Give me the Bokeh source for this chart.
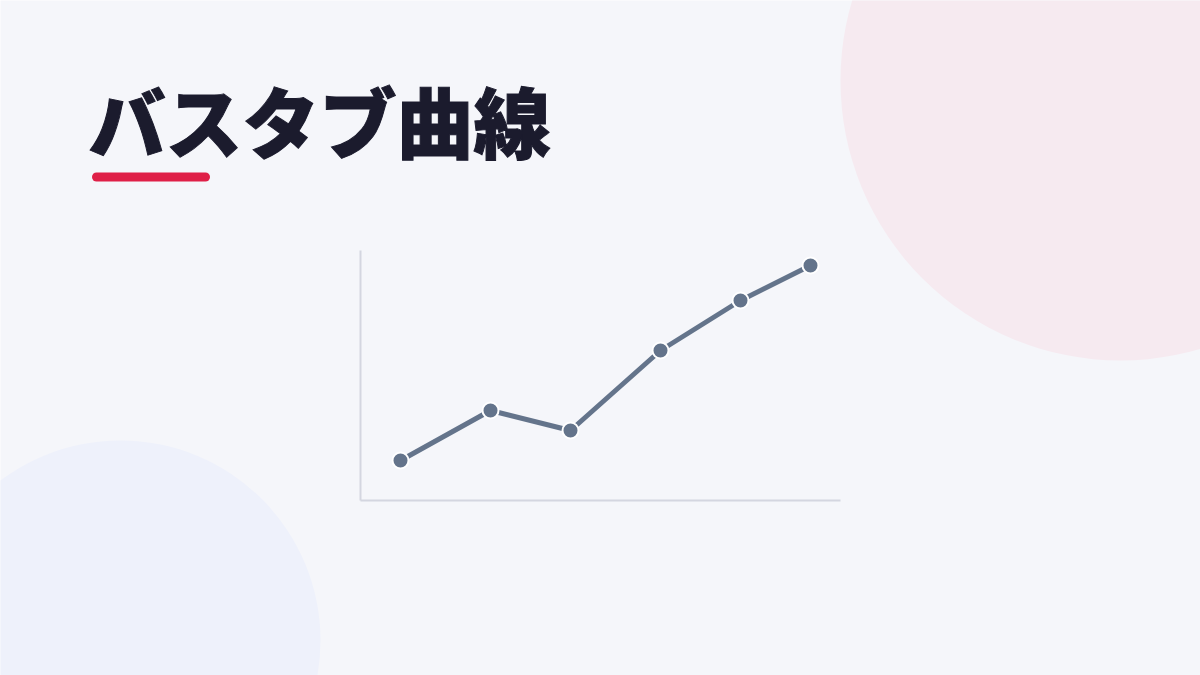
from bokeh.plotting import figure
from bokeh.models import Range1d
from bokeh.embed import file_html
from bokeh.resources import INLINE
from bokeh.core.properties import value

# --- data ---
title_text = "バスタブ曲線"
x_vals = [40, 130, 210, 300, 380, 450]
y_vals = [40, 90, 70, 150, 200, 235]
axis_x_max = 480
axis_y_max = 250

BG = "#f5f6fa"
W, H = 1200, 675

p = figure(width=W, height=H, output_backend="svg", toolbar_location=None,
           x_range=Range1d(0, W), y_range=Range1d(H, 0),
           min_border=0)
p.background_fill_color = BG
p.border_fill_color = BG
p.outline_line_color = None
p.xaxis.visible = False
p.yaxis.visible = False
p.grid.visible = False

# chart coordinate system: 1 unit = 1 px, origin at page (360, 500)
ox, oy = 360, 500
p.extra_x_ranges = {"c": Range1d(-ox, W - ox)}
p.extra_y_ranges = {"c": Range1d(oy - H, oy)}

# decorative circles
p.circle(x=[1120], y=[80], radius=280, fill_color="#f6eaf0", line_color=None)
p.circle(x=[120], y=[640], radius=200, fill_color="#eef1fb", line_color=None)

# title
p.text(x=[88], y=[119], text=[title_text],
       text_font=value("'Noto Sans CJK JP Black', 'Noto Sans CJK JP'"),
       text_font_style="bold", text_font_size="77px", text_color="#1b1b2d",
       text_outline_color="#1b1b2d",
       text_baseline="middle", text_align="left")
p.line(x=[96, 205], y=[176.5, 176.5], line_width=9, line_color="#df1f47", line_cap="round")

# axes of the mini chart
p.line(x=[0, 0], y=[0, axis_y_max], x_range_name="c", y_range_name="c",
       line_color="#d4d6e0", line_width=2)
p.line(x=[0, axis_x_max], y=[0, 0], x_range_name="c", y_range_name="c",
       line_color="#d4d6e0", line_width=2)

# series
p.line(x=x_vals, y=y_vals, x_range_name="c", y_range_name="c",
       line_color="#64748b", line_width=5)
p.scatter(x=x_vals, y=y_vals, x_range_name="c", y_range_name="c",
          size=16, fill_color="#64748b", line_color="white", line_width=2)

html = file_html(p, INLINE)
html = html.replace("<body>", "<body style=\"background:%s\">" % BG, 1)
open("out.html", "w").write(html)
